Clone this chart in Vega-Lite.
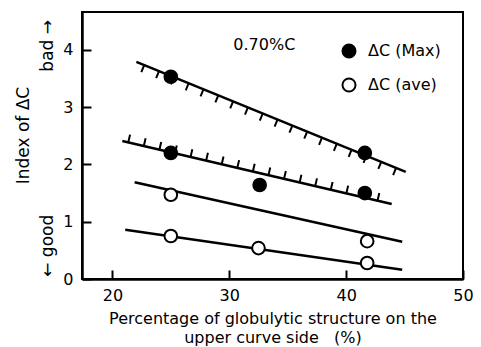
{
  "$schema": "https://vega.github.io/schema/vega-lite/v6.json",
  "width": 381,
  "height": 267,
  "autosize": "none",
  "padding": {"left": 82, "top": 12, "right": 18, "bottom": 68},
  "background": "white",
  "config": {
    "font": "DejaVu Sans",
    "view": {"stroke": "black", "strokeWidth": 2},
    "axis": {
      "domainColor": "black", "domainWidth": 2.5,
      "tickColor": "black", "tickWidth": 2, "tickSize": -9,
      "labelColor": "black", "labelFontSize": 16, "labelFont": "DejaVu Sans",
      "titleColor": "black", "titleFont": "DejaVu Sans", "titleFontWeight": "normal", "titleFontSize": 16,
      "grid": false, "labelFlush": false, "labelOverlap": false
    },
    "legend": {"labelFont": "DejaVu Sans", "labelColor": "black"}
  },
  "datasets": {
    "lines": [
      {"line": "a", "pct": 22.05, "index": 3.79},
      {"line": "a", "pct": 45.1, "index": 1.87},
      {"line": "b", "pct": 20.85, "index": 2.41},
      {"line": "b", "pct": 43.9, "index": 1.31},
      {"line": "c", "pct": 21.9, "index": 1.69},
      {"line": "c", "pct": 44.8, "index": 0.65},
      {"line": "d", "pct": 21.1, "index": 0.86},
      {"line": "d", "pct": 44.8, "index": 0.16}
    ],
    "points": [
      {"series": "ΔC (Max)", "pct": 25, "index": 3.53},
      {"series": "ΔC (Max)", "pct": 25, "index": 2.2},
      {"series": "ΔC (Max)", "pct": 32.6, "index": 1.64},
      {"series": "ΔC (Max)", "pct": 41.6, "index": 2.2},
      {"series": "ΔC (Max)", "pct": 41.6, "index": 1.5},
      {"series": "ΔC (ave)", "pct": 25, "index": 1.47},
      {"series": "ΔC (ave)", "pct": 25, "index": 0.75},
      {"series": "ΔC (ave)", "pct": 32.5, "index": 0.54},
      {"series": "ΔC (ave)", "pct": 41.8, "index": 0.66},
      {"series": "ΔC (ave)", "pct": 41.8, "index": 0.28}
    ],
    "notes": [
      {"pct": 33.0, "index": 4.09, "label": "0.70%C"}
    ],
    "sides": [
      {"pct": 14.9, "index": 4.07, "label": "bad →"},
      {"pct": 14.9, "index": 0.58, "label": "← good"}
    ]
  },
  "encoding": {
    "x": {
      "field": "pct", "type": "quantitative",
      "scale": {"domain": [17.4, 50], "nice": false, "zero": false},
      "axis": {
        "values": [20, 30, 40, 50], "labelPadding": 17,
        "title": ["Percentage of globulytic structure on the", "upper curve side\u00a0\u00a0\u00a0(%)"],
        "titleLineHeight": 19, "titleBaseline": "alphabetic", "titleY": 44
      }
    },
    "y": {
      "field": "index", "type": "quantitative",
      "scale": {"domain": [0, 4.66], "nice": false},
      "axis": {
        "values": [0, 1, 2, 3, 4], "labelPadding": 18,
        "title": "Index of ΔC", "titleFontSize": 17,
        "titleBaseline": "alphabetic", "titleX": -54, "titleY": 123
      }
    }
  },
  "layer": [
    {
      "data": {"name": "lines"},
      "mark": {"type": "line", "color": "black", "strokeWidth": 2.5},
      "encoding": {"detail": {"field": "line"}}
    },
    {
      "data": {"name": "lines"},
      "transform": [{"filter": "datum.line === 'a'"}],
      "mark": {"type": "line", "color": "black", "strokeWidth": 8, "strokeDash": [2, 14], "strokeDashOffset": -6, "strokeCap": "butt", "yOffset": 4},
      "encoding": {}
    },
    {
      "data": {"name": "lines"},
      "transform": [{"filter": "datum.line === 'b'"}],
      "mark": {"type": "line", "color": "black", "strokeWidth": 8, "strokeDash": [2, 14], "strokeDashOffset": -6, "strokeCap": "butt", "yOffset": -4},
      "encoding": {}
    },
    {
      "data": {"name": "points"},
      "mark": {"type": "point", "shape": "circle", "filled": true, "size": 160, "stroke": "black", "strokeWidth": 2, "opacity": 1},
      "encoding": {
        "fill": {
          "field": "series", "type": "nominal",
          "scale": {"domain": ["ΔC (Max)", "ΔC (ave)"], "range": ["black", "white"]},
          "legend": {
            "title": null, "orient": "none", "legendX": 259, "legendY": 31,
            "labelFontSize": 16, "symbolSize": 170, "symbolType": "circle",
            "symbolStrokeColor": "black", "symbolStrokeWidth": 2,
            "rowPadding": 12, "labelOffset": 11
          }
        }
      }
    },
    {
      "data": {"name": "notes"},
      "mark": {"type": "text", "fontSize": 16, "color": "black", "align": "center", "baseline": "middle"},
      "encoding": {"text": {"field": "label"}}
    },
    {
      "data": {"name": "sides"},
      "mark": {"type": "text", "fontSize": 17, "color": "black", "align": "center", "baseline": "alphabetic", "angle": 270},
      "encoding": {"text": {"field": "label"}}
    }
  ]
}
